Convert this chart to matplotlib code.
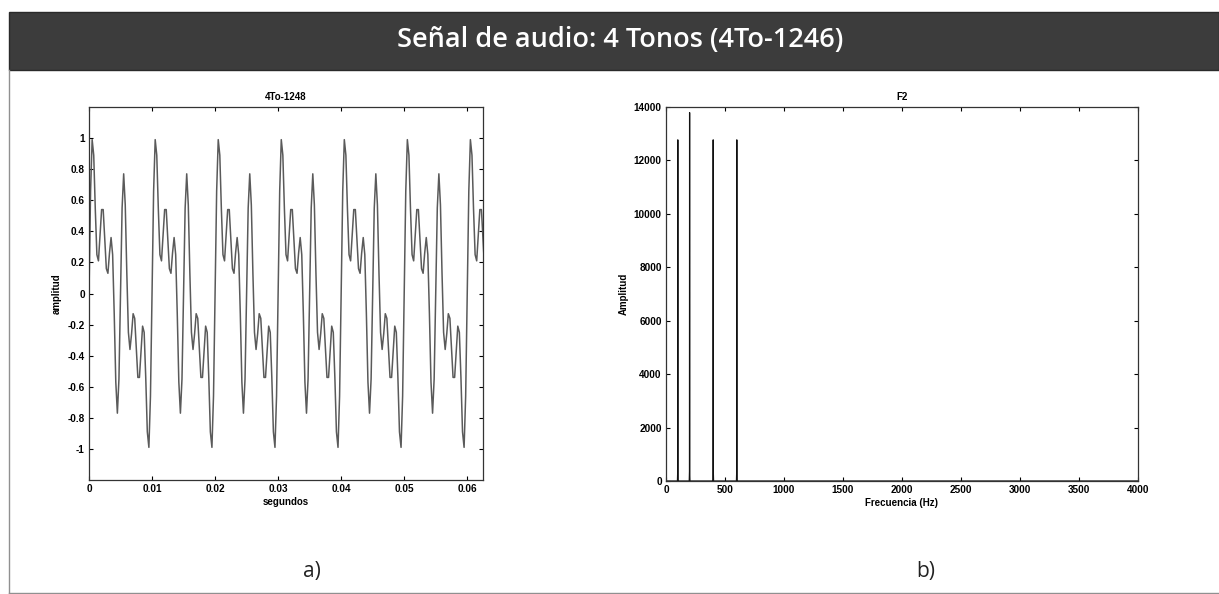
import numpy as np
import matplotlib.pyplot as plt
from matplotlib.patches import Rectangle
from matplotlib.lines import Line2D

# --- data ---
# left panel: one period (10 ms) of the 4-tone signal, sampled every 0.25 ms
period_ms = 10.0
step_ms = 0.25
n_periods = 7
period_amp = [0.00, 0.66, 0.99, 0.89, 0.54, 0.25, 0.21, 0.37, 0.54, 0.54,
              0.35, 0.16, 0.13, 0.26, 0.36, 0.25, -0.13, -0.57, -0.77, -0.55,
              0.00, 0.55, 0.77, 0.57, 0.13, -0.25, -0.36, -0.26, -0.13, -0.16,
              -0.35, -0.54, -0.54, -0.37, -0.21, -0.25, -0.54, -0.89, -0.99, -0.66]
t_end = 0.0625          # s, last sample on the time axis

# right panel: spectrum (Hz, amplitude)
spec_freq = [0, 97, 99, 100, 101, 103, 197, 199, 200, 201, 203,
             397, 399, 400, 401, 403, 597, 599, 600, 601, 603, 4000]
spec_amp = [0, 0, 350, 12770, 350, 0, 0, 350, 13790, 350, 0,
            0, 350, 12770, 350, 0, 0, 350, 12770, 350, 0, 0]

title = "Señal de audio: 4 Tonos (4To-1246)"
left_title = "4To-1248"
right_title = "F2"

W, H = 1219, 594
fig = plt.figure(figsize=(W / 100, H / 100), dpi=100)


def fx(px):
    return px / W


def fy(py):
    return 1 - py / H


# dark title bar and panel border
fig.patches.append(Rectangle((fx(9), fy(70)), 1 - fx(9), (70 - 12) / H,
                             transform=fig.transFigure, facecolor="#3c3c3c",
                             edgecolor="#2a2a2a", lw=1.0))
fig.lines.append(Line2D([fx(9), fx(9)], [fy(70), fy(593)],
                        transform=fig.transFigure, color="#909090", lw=1))
fig.lines.append(Line2D([fx(9), 1], [fy(593), fy(593)],
                        transform=fig.transFigure, color="#909090", lw=1))
fig.text(fx(620), fy(40), title, ha="center", va="center", color="white",
         fontsize=19.5, family="Open Sans", fontweight="semibold")
fig.text(fx(312), fy(572), "a)", ha="center", va="center",
         fontsize=15, family="Open Sans", color="#222222")
fig.text(fx(926), fy(572), "b)", ha="center", va="center",
         fontsize=15, family="Open Sans", color="#222222")

small = dict(fontsize=7, family="Liberation Sans", fontweight="bold")


def matlab_axes(ax):
    ax.tick_params(direction="in", top=True, right=True, length=3,
                   width=0.8, labelsize=7.2, pad=3)
    for lab in ax.get_xticklabels() + ax.get_yticklabels():
        lab.set_family("Liberation Sans")
        lab.set_fontweight("bold")
    for sp in ax.spines.values():
        sp.set_linewidth(0.9)
        sp.set_color("#333333")


# left: time signal
ax1 = fig.add_axes([fx(89), fy(480), fx(483 - 89), (480 - 107) / H])
amp = np.tile(period_amp, n_periods)
t = np.arange(len(amp)) * step_ms / 1000.0
ax1.plot(t, amp, color="#5a5a5a", lw=1.1)
ax1.set_xlim(0, t_end)
ax1.set_ylim(-1.2, 1.2)
ax1.set_xticks(np.arange(0, 0.061, 0.01))
ax1.set_xticklabels(["0", "0.01", "0.02", "0.03", "0.04", "0.05", "0.06"])
ax1.set_yticks(np.arange(-1, 1.01, 0.2))
ax1.set_yticklabels(["-1", "-0.8", "-0.6", "-0.4", "-0.2", "0",
                     "0.2", "0.4", "0.6", "0.8", "1"])
ax1.set_title(left_title, pad=5, **small)
ax1.set_xlabel("segundos", labelpad=2, **small)
ax1.set_ylabel("amplitud", labelpad=4, **small)
matlab_axes(ax1)

# right: spectrum
ax2 = fig.add_axes([fx(666), fy(481), fx(1138 - 666), (481 - 107) / H])
ax2.plot(spec_freq, spec_amp, color="#111111", lw=0.9)
ax2.set_xlim(0, 4000)
ax2.set_ylim(0, 14000)
ax2.set_xticks(np.arange(0, 4001, 500))
ax2.set_yticks(np.arange(0, 14001, 2000))
ax2.set_title(right_title, pad=5, **small)
ax2.set_xlabel("Frecuencia (Hz)", labelpad=2, **small)
ax2.set_ylabel("Amplitud", labelpad=4, **small)
matlab_axes(ax2)

fig.savefig("out.png", dpi=100)
